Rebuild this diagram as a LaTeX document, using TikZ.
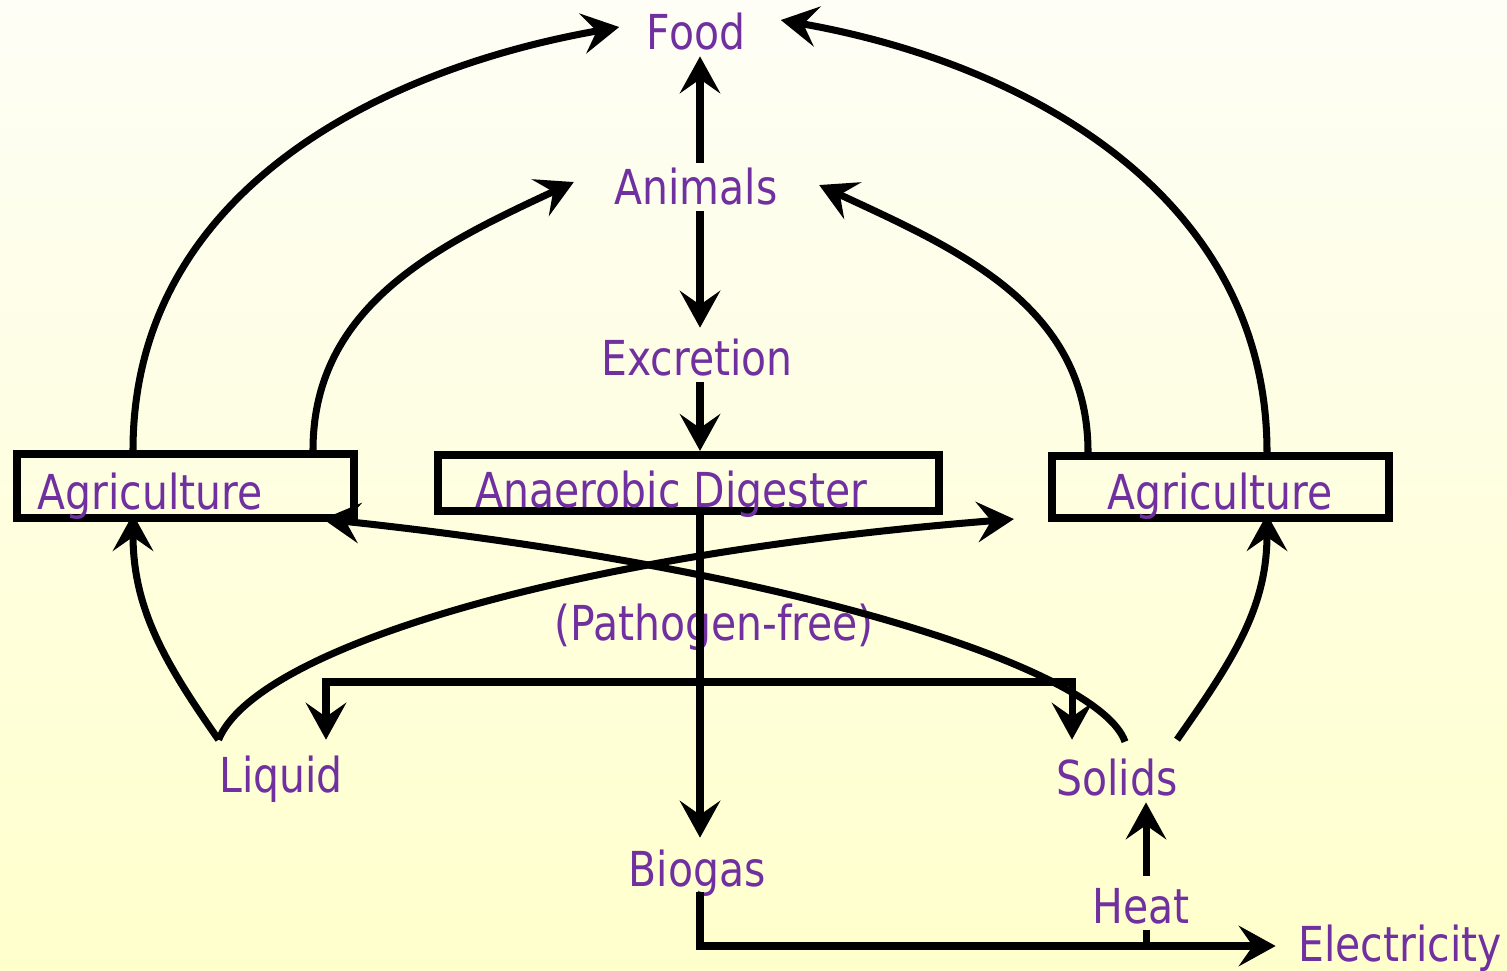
\documentclass[tikz,border=0pt]{standalone}
\usepackage{fontspec}
\setmainfont{DejaVu Sans}[FakeStretch=0.85]
\usepackage{xcolor}
\usepackage{tikz}
\usetikzlibrary{positioning, calc, arrows.meta}

\definecolor{lblpurple}{HTML}{7030A0}
\definecolor{bgtop}{RGB}{254,254,246}
\definecolor{bgbottom}{RGB}{255,255,204}

\tikzset{
    lbl/.style={text=lblpurple, inner sep=0.05cm, font=\fontsize{13.7pt}{16pt}\selectfont},
    agbox/.style={draw, line width=2.3pt, inner sep=0pt},
    flow/.style={line width=2pt}
}

\begin{document}
\begin{tikzpicture}[>={Stealth[length=10.5pt,width=11.5pt,inset=4pt]}]

        % ==========================================
        % BACKGROUND
        % ==========================================
        \shade[top color=bgtop, bottom color=bgbottom] (0,0) rectangle (15.07,9.70);
        \useasboundingbox (0,0) rectangle (15.07,9.70);
        \coordinate (spine) at (7.00,0);

        % ==========================================
        % TOP: Food, Animals, Excretion
        % ==========================================
        \node[lbl, anchor=base] (food) at (6.96,9.20) {Food};
        \node[lbl, anchor=base] (animals) at (6.96,7.65) {Animals};
        \node[lbl, anchor=base] (excretion) at (6.97,5.94) {Excretion};

        % ==========================================
        % MIDDLE: Boxes
        % ==========================================
        \node[agbox, minimum width=3.37cm, minimum height=0.64cm] (agrL) at (1.855,4.84) {};
        \node[lbl, anchor=base west] (agrLtxt) at (0.32,4.60) {Agriculture};
        \node[agbox, minimum width=5.01cm, minimum height=0.56cm] (dig) at (6.885,4.87) {};
        \node[lbl, anchor=base west] (digtxt) at (4.70,4.62) {Anaerobic Digester};
        \node[agbox, minimum width=3.37cm, minimum height=0.62cm] (agrR) at (12.205,4.83) {};
        \node[lbl, anchor=base west] (agrRtxt) at (11.02,4.60) {Agriculture};

        % ==========================================
        % BOTTOM: Outputs
        % ==========================================
        \node[lbl, anchor=base] (pathogen) at (7.14,3.29) {(Pathogen-free)};
        \node[lbl, anchor=base] (liquid) at (2.81,1.77) {Liquid};
        \node[lbl, anchor=base] (solids) at (11.17,1.74) {Solids};
        \node[lbl, anchor=base] (biogas) at (6.97,0.84) {Biogas};
        \node[lbl, anchor=base] (heat) at (11.41,0.46) {Heat};
        \node[lbl, anchor=base] (elec) at (14.00,0.08) {Electricity};

        % Helper points
        \coordinate (split) at (7.00,2.88);
        \coordinate (junc) at (11.46,0.24);
        \coordinate (liqtop) at ($(liquid.north west)+(0.05,0.11)$);

        % ==========================================
        % SPINE: vertical flow
        % ==========================================
        \draw[flow, ->] (animals.north -| spine) -- (food.south -| spine);
        \draw[flow, ->] (animals.south -| spine) -- ([yshift=0.06cm]excretion.north -| spine);
        \draw[flow, ->] (excretion.south -| spine) -- (dig.north -| spine);
        \draw[flow, ->] (dig.south -| spine) -- ([yshift=0.06cm]biogas.north -| spine);

        % Split to Liquid and Solids
        \draw[flow, ->] (split) -| ([xshift=0.45cm,yshift=0.11cm]liquid.north);
        \draw[flow, ->] (split) -| ([xshift=-0.45cm,yshift=0.14cm]solids.north);

        % Biogas to Electricity and Heat
        \draw[flow, ->] ([yshift=0.1cm]biogas.south -| spine) |- ([xshift=-0.17cm]elec.west |- junc);
        \draw[flow] (junc) -- (junc |- heat.south);
        \draw[flow, ->] ([yshift=0.07cm]heat.north -| junc) -- (solids.south -| junc);

        % ==========================================
        % UPPER CURVES: Agriculture to Food / Animals
        % ==========================================
        \draw[flow, ->] ([xshift=-0.525cm]agrL.north) to[out=90, in=190]
            ([xshift=-0.22cm,yshift=0.05cm]food.west);
        \draw[flow, ->] ([xshift=1.275cm]agrL.north) to[out=90, in=205]
            ([xshift=-0.35cm,yshift=0.05cm]animals.west);
        \draw[flow, ->] ([xshift=0.465cm]agrR.north) to[out=90, in=-10]
            ([xshift=0.30cm,yshift=0.12cm]food.east);
        \draw[flow, ->] ([xshift=-1.325cm]agrR.north) to[out=90, in=-25]
            ([xshift=0.36cm,yshift=0.02cm]animals.east);

        % ==========================================
        % LOWER CURVES: Liquid / Solids back to Agriculture
        % ==========================================
        \draw[flow, ->] (liqtop) to[out=125, in=270]
            ([xshift=-0.525cm,yshift=0.08cm]agrL.south);
        \draw[flow, ->] (liqtop) .. controls (2.55,3.20) and (5.60,4.15) ..
            ([xshift=-0.34cm,yshift=0.03cm]agrL.south west -| agrR.south west);
        \draw[flow, ->] ([xshift=0.08cm,yshift=0.12cm]solids.north) .. controls (11.00,3.00) and (8.00,4.00) ..
            ([xshift=-0.35cm,yshift=0.03cm]agrL.south east);
        \draw[flow, ->] ([xshift=0.60cm,yshift=0.14cm]solids.north) to[out=55, in=270]
            ([xshift=0.465cm,yshift=0.08cm]agrR.south);

\end{tikzpicture}
\end{document}
